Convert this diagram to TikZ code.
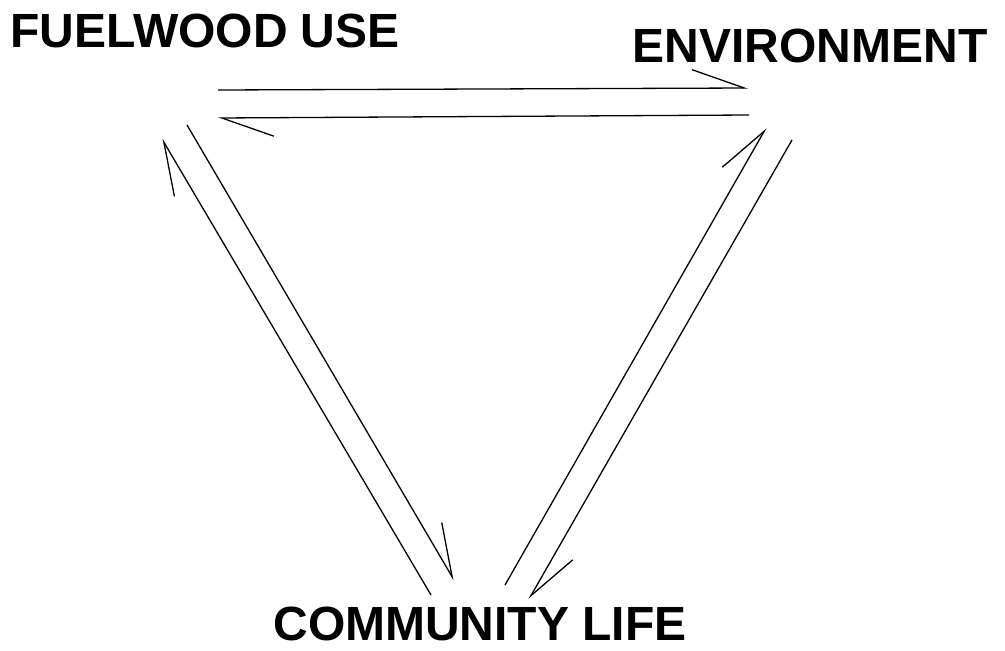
\documentclass[tikz,border=0pt]{standalone}
\usepackage{fontspec}
\setmainfont{Liberation Sans}
\usetikzlibrary{arrows.meta}

\tikzset{
  label/.style={anchor=base, inner sep=0pt, font=\fontsize{48}{50}\selectfont\bfseries},
  flow/.style={line width=1.3pt, -{Straight Barb[harpoon, length=52pt, width=37pt, line width=1.3pt]}}
}

\begin{document}
\begin{tikzpicture}[x=1pt, y=-1pt]
\useasboundingbox (0,0) rectangle (1005,651);

\node[label] (fuel) at(205,47) {FUELWOOD USE};
\node[label] (env)  at(810,62) {ENVIRONMENT};
\node[label] (comm) at(480,640) {COMMUNITY LIFE};

% line ends round the triangle
\coordinate (fe-a) at(218,90);
\coordinate (fe-b) at(748,88);
\coordinate (ef-a) at(749,115);
\coordinate (ef-b) at(218,118);
\coordinate (cf-a) at(431,595);
\coordinate (cf-b) at(162,139);
\coordinate (fc-a) at(187,125);
\coordinate (fc-b) at(454,580);
\coordinate (ce-a) at(505,585);
\coordinate (ce-b) at(766,128);
\coordinate (ec-a) at(792,140);
\coordinate (ec-b) at(529,599);

\draw[flow] (fe-a) -- (fe-b);
\draw[flow] (ef-a) -- (ef-b);
\draw[flow] (cf-a) -- (cf-b);
\draw[flow] (fc-a) -- (fc-b);
\draw[flow] (ce-a) -- (ce-b);
\draw[flow] (ec-a) -- (ec-b);
\end{tikzpicture}
\end{document}
